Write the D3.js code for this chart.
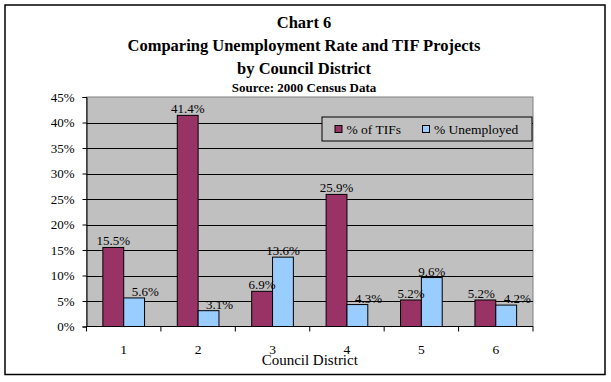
<!DOCTYPE html>
<html>
<head>
<meta charset="utf-8">
<script src="https://cdn.jsdelivr.net/npm/d3@7"></script>
<style>
  body { margin: 0; background: #fff; }
  svg text { font-family: "Liberation Serif", "Times New Roman", serif; }
</style>
</head>
<body>
<div class="usable"></div>
<script>
// data
const districts = ["1", "2", "3", "4", "5", "6"];
const seriesNames = ["% of TIFs", "% Unemployed"];
const tifs = [15.5, 41.4, 6.9, 25.9, 5.2, 5.2];
const unemployed = [5.6, 3.1, 13.6, 4.3, 9.6, 4.2];
const yTicks = [0, 5, 10, 15, 20, 25, 30, 35, 40, 45];
const colors = ["#993366", "#99ccff"];

const W = 611, H = 382;
const plot = { left: 86.5, right: 533, top: 97, bottom: 326.5 };

let svg = d3.select(".usable").append("svg")
    .attr("width", W)
    .attr("height", H);

// outer frame
svg.append("rect")
    .attr("x", 5).attr("y", 5)
    .attr("width", 600).attr("height", 369.5)
    .attr("fill", "#fff")
    .attr("stroke", "#000")
    .attr("stroke-width", 1.5);

// titles
const titles = [
    { text: "Chart 6", y: 28, size: 16.5 },
    { text: "Comparing Unemployment Rate and TIF Projects", y: 51, size: 16.5 },
    { text: "by Council District", y: 74, size: 16.5 },
    { text: "Source: 2000 Census Data", y: 92, size: 13 }
];
svg.selectAll("text.title").data(titles).join("text")
    .attr("class", "title")
    .attr("x", 304)
    .attr("y", d => d.y)
    .attr("text-anchor", "middle")
    .style("font-weight", "bold")
    .style("font-size", d => d.size + "px")
    .text(d => d.text);

let x0 = d3.scaleBand()
    .domain(districts)
    .range([plot.left, plot.right])
    .paddingInner(0.44)
    .paddingOuter(0.22);

let x1 = d3.scaleBand()
    .domain([0, 1])
    .range([0, x0.bandwidth()]);

let y = d3.scaleLinear()
    .domain([0, 45])
    .range([plot.bottom, plot.top]);

// plot background
svg.append("rect")
    .attr("x", plot.left).attr("y", plot.top)
    .attr("width", plot.right - plot.left)
    .attr("height", plot.bottom - plot.top)
    .attr("fill", "#c0c0c0")
    .attr("stroke", "#808080")
    .attr("stroke-width", 1);

// gridlines
svg.append("g").selectAll("line")
    .data(yTicks.filter(t => t > 0 && t < 45))
    .join("line")
    .attr("x1", plot.left).attr("x2", plot.right)
    .attr("y1", d => Math.round(y(d)) + 0.5)
    .attr("y2", d => Math.round(y(d)) + 0.5)
    .attr("stroke", "#000");

// y axis
let yAxis = d3.axisLeft(y)
    .tickValues(yTicks)
    .tickSize(4)
    .tickPadding(8)
    .tickFormat(d => d + "%");

let gy = svg.append("g")
    .attr("transform", `translate(${plot.left},0)`)
    .call(yAxis);
gy.select(".domain").attr("stroke", "#000");
gy.selectAll("text").style("font-size", "13px").attr("fill", "#000")
    .style("font-family", "'Liberation Serif', serif");

// x axis (ticks between categories)
let gx = svg.append("g")
    .attr("transform", `translate(0,${plot.bottom})`);
gx.append("line")
    .attr("x1", plot.left).attr("x2", plot.right)
    .attr("y1", 0).attr("y2", 0)
    .attr("stroke", "#000");
let step = x0.step();
gx.selectAll("line.tick")
    .data(d3.range(districts.length + 1))
    .join("line")
    .attr("class", "tick")
    .attr("x1", i => plot.left + i * step)
    .attr("x2", i => plot.left + i * step)
    .attr("y1", 0).attr("y2", 5)
    .attr("stroke", "#000");
gx.selectAll("text.cat")
    .data(districts)
    .join("text")
    .attr("class", "cat")
    .attr("x", d => x0(d) + x0.bandwidth() / 2)
    .attr("y", 27)
    .attr("text-anchor", "middle")
    .style("font-size", "13.5px")
    .text(d => d);

svg.append("text")
    .attr("x", (plot.left + plot.right) / 2)
    .attr("y", 365)
    .attr("text-anchor", "middle")
    .style("font-size", "15px")
    .text("Council District");

// bars
const series = [tifs, unemployed];
let groups = svg.append("g").selectAll("g")
    .data(districts)
    .join("g")
    .attr("transform", d => `translate(${x0(d)},0)`);

groups.selectAll("rect")
    .data((d, i) => series.map((s, k) => ({ k: k, v: s[i] })))
    .join("rect")
    .attr("x", d => x1(d.k))
    .attr("y", d => y(d.v))
    .attr("width", x1.bandwidth())
    .attr("height", d => y(0) - y(d.v))
    .attr("fill", d => colors[d.k])
    .attr("stroke", "#000")
    .attr("stroke-width", 1);

// data labels, nudged sideways when they run into the other bar or label
groups.each(function (d, i) {
    let g = d3.select(this);
    let labels = series.map((s, k) => {
        let t = g.append("text")
            .attr("y", y(s[i]) - 2)
            .attr("text-anchor", "middle")
            .style("font-size", "13px")
            .text(s[i].toFixed(1) + "%");
        let w = t.node().getComputedTextLength();
        return { t: t, w: w, cx: x1(k) + x1.bandwidth() / 2, base: y(s[i]) - 2 };
    });
    let tifTop = y(tifs[i]);
    // unemployed label moves right if the TIF bar stands beside it
    if (tifTop < labels[1].base) {
        labels[1].cx = x1.bandwidth() + 8 + labels[1].w / 2;
    }
    // labels on about the same line get pushed apart
    if (Math.abs(labels[0].base - labels[1].base) < 12) {
        let right0 = labels[0].cx + labels[0].w / 2;
        let left1 = labels[1].cx - labels[1].w / 2;
        if (right0 > left1 - 9) {
            labels[0].cx = left1 - 9 - labels[0].w / 2;
        }
    }
    labels.forEach(l => l.t.attr("x", l.cx));
});

// legend
let legend = svg.append("g").attr("transform", "translate(322,117)");
legend.append("rect")
    .attr("width", 210).attr("height", 24)
    .attr("fill", "#c0c0c0")
    .attr("stroke", "#000");
const legendX = [13, 100.5];
seriesNames.forEach((name, k) => {
    legend.append("rect")
        .attr("x", legendX[k]).attr("y", 8.5)
        .attr("width", 7).attr("height", 7)
        .attr("fill", colors[k])
        .attr("stroke", "#000");
    legend.append("text")
        .attr("x", legendX[k] + 11.5)
        .attr("y", 16.5)
        .style("font-size", "13.5px")
        .text(name);
});
</script>
</body>
</html>
